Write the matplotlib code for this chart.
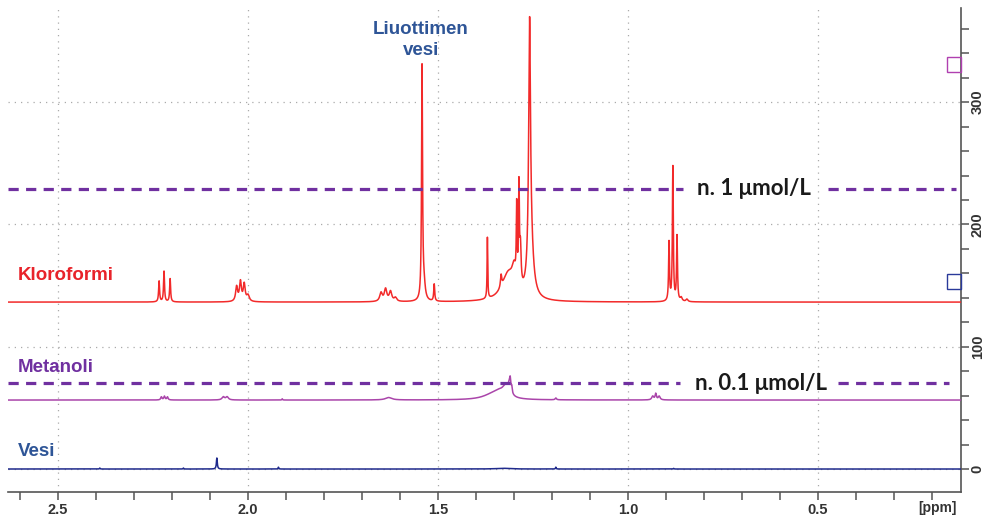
import numpy as np
import matplotlib
matplotlib.use("Agg")
import matplotlib.pyplot as plt
from matplotlib.patches import Rectangle
import matplotlib.transforms as mtransforms

# ---------------- data ----------------
# peak lists: position [ppm], height above baseline, half-width [ppm]
red_baseline = 136.5
red_ppm = [2.234, 2.221, 2.205, 2.030, 2.020, 2.010, 2.000, 1.650, 1.638, 1.625, 1.612,
           1.542, 1.537, 1.510, 1.370, 1.334, 1.315, 1.300, 1.293, 1.287, 1.283,
           1.259, 1.256, 0.892, 0.882, 0.871, 0.860, 0.845]
red_h = [17, 25, 19, 12, 16, 14, 5, 7, 10, 8, 3,
         190, 12, 14, 50, 10, 22, 15, 60, 80, 30,
         195, 40, 48, 110, 53, 3, 2]
red_w = [0.0015, 0.0015, 0.0015, 0.003, 0.003, 0.003, 0.004, 0.004, 0.004, 0.004, 0.004,
         0.0015, 0.004, 0.0015, 0.001, 0.002, 0.02, 0.006, 0.0012, 0.0014, 0.002,
         0.0028, 0.008, 0.0014, 0.0014, 0.0014, 0.003, 0.003]

mag_baseline = 56.4
mag_ppm = [2.228, 2.220, 2.212, 2.065, 2.055, 1.910, 1.630, 1.360, 1.340, 1.322, 1.312,
           1.310, 1.306, 1.190, 0.935, 0.927, 0.918]
mag_h = [2.5, 3, 2.5, 2.5, 2.5, 1, 2, 3, 5, 8, 8, 7, 5, 1.5, 3, 5, 3]
mag_w = [0.002, 0.002, 0.002, 0.004, 0.004, 0.001, 0.01, 0.03, 0.02, 0.01, 0.004, 0.0015,
         0.0015, 0.002, 0.003, 0.002, 0.003]

blue_baseline = 0.0
blue_ppm = [2.390, 2.170, 2.082, 1.920, 1.330, 1.190, 0.880]
blue_h = [0.8, 0.8, 9, 1.5, 0.6, 1.5, 0.5]
blue_w = [0.001, 0.001, 0.0014, 0.001, 0.02, 0.001, 0.001]

level_1umol = 229
level_01umol = 70

x_major = [2.5, 2.0, 1.5, 1.0, 0.5]
y_major = [0, 100, 200, 300]


def spectrum(x, base, pos, h, w):
    y = np.full_like(x, base)
    for p, hh, ww in zip(pos, h, w):
        y += hh / (1 + ((x - p) / ww) ** 2)
    return y


# ---------------- figure ----------------
fig = plt.figure(figsize=(9.91, 5.21), dpi=100)
ax = fig.add_axes([8 / 991, 1 - 492 / 521, 953 / 991, 484 / 521])

x = np.linspace(2.64, 0.12, 12000)
ax.plot(x, spectrum(x, red_baseline, red_ppm, red_h, red_w), color="#f22a2a", lw=1.1, zorder=3)
ax.plot(x, spectrum(x, mag_baseline, mag_ppm, mag_h, mag_w), color="#aa45aa", lw=1.1, zorder=3)
ax.plot(x, spectrum(x, blue_baseline, blue_ppm, blue_h, blue_w), color="#1f2a8c", lw=1.1, zorder=3)

ax.set_xlim(2.6316, 0.1237)
ax.set_ylim(-18.8, 377)

# grid
for xv in x_major:
    ax.axvline(xv, color="#aaaaaa", lw=0.9, ls=(0, (1, 4)), zorder=1)
for yv in y_major:
    ax.axhline(yv, color="#aaaaaa", lw=0.9, ls=(0, (1, 4)), zorder=1)

# dashed level lines (broken where the labels sit)
dash_col = "#7030a0"
dkw = dict(color=dash_col, lw=2.3, dashes=(3.2, 2.3), zorder=4)
ax.axhline(level_1umol, xmin=0.0, xmax=0.708, **dkw)
ax.axhline(level_1umol, xmin=0.860, xmax=0.995, **dkw)
ax.axhline(level_01umol, xmin=0.0, xmax=0.705, **dkw)
ax.axhline(level_01umol, xmin=0.871, xmax=0.987, **dkw)

cal = ["Lato", "DejaVu Sans"]
ax.text(0.8184, level_1umol, "n. 1 \u03bcmol/L", fontsize=16, fontweight="bold",
        family=cal, color="#1a1a1a", ha="left", va="center", zorder=5)
ax.text(0.8237, level_01umol, "n. 0.1 \u03bcmol/L", fontsize=16, fontweight="bold",
        family=cal, color="#1a1a1a", ha="left", va="center", zorder=5)

# sample labels
trans = mtransforms.blended_transform_factory(ax.transAxes, ax.transData)
lab = dict(fontsize=13.5, fontweight="bold", family="Liberation Sans", ha="left", va="center")
ax.text(0.0105, 158.6, "Kloroformi", color="#e8232a", transform=trans, **lab)
ax.text(0.0105, 83.4, "Metanoli", color="#7030a0", transform=trans, **lab)
ax.text(0.0105, 14.7, "Vesi", color="#2e5597", transform=trans, **lab)
ax.text(1.545, 351, "Liuottimen\nvesi", color="#2e5597", fontsize=13.5, fontweight="bold",
        family="Liberation Sans", ha="center", va="center", linespacing=1.35)

# scale markers on the right
ax.add_patch(Rectangle((0.985, 324.6), 0.015, 12.3, transform=trans, fill=False,
                       edgecolor="#b040b0", lw=1.0, clip_on=False, zorder=5))
ax.add_patch(Rectangle((0.985, 147.2), 0.015, 12.3, transform=trans, fill=False,
                       edgecolor="#2a3a9a", lw=1.0, clip_on=False, zorder=5))

# axes styling
for s in ["top", "left"]:
    ax.spines[s].set_visible(False)
for s in ["bottom", "right"]:
    ax.spines[s].set_color("#555555")
    ax.spines[s].set_linewidth(1.2)

ax.yaxis.tick_right()
ax.set_xticks(x_major)
ax.set_xticks(np.arange(0.2, 2.65, 0.1), minor=True)
ax.set_yticks(y_major)
ax.set_yticks(np.arange(-0, 377, 20), minor=True)
ax.tick_params(axis="both", which="both", direction="out", length=6, width=1.1, color="#555555")
ax.tick_params(axis="x", labelsize=10.5, labelcolor="#333333", pad=2)
ax.tick_params(axis="y", labelsize=10.5, labelcolor="#333333", pad=1)
ax.set_xticklabels(["2.5", "2.0", "1.5", "1.0", "0.5"], fontweight="bold", family="Liberation Sans")
ax.set_yticklabels(["0", "100", "200", "300"], fontweight="bold", family="Liberation Sans",
                   rotation=90, va="center")
ax.text(0.995, -0.018, "[ppm]", transform=ax.transAxes, fontsize=10, fontweight="bold",
        family="Liberation Sans", color="#333333", ha="right", va="top")

fig.savefig("out.png", dpi=100)
